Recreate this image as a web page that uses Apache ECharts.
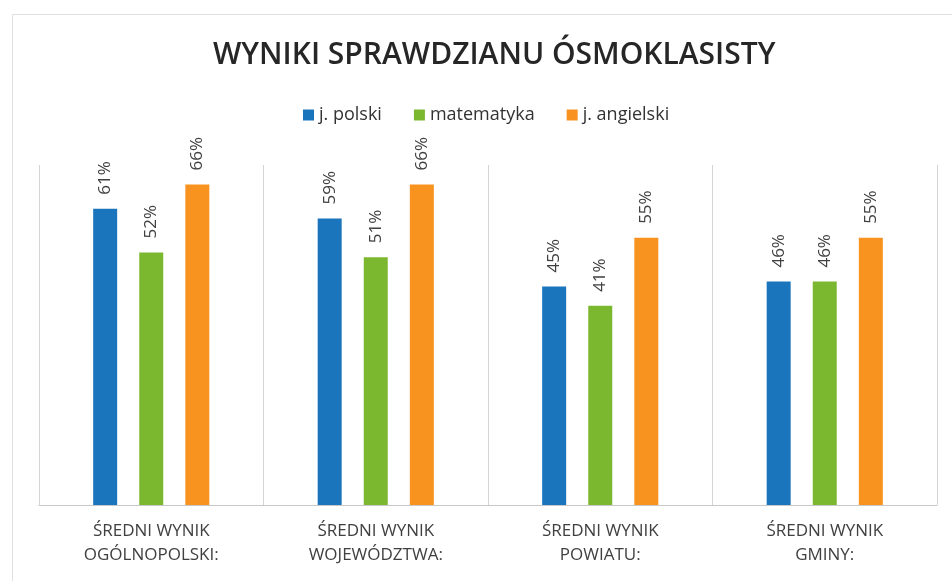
<!DOCTYPE html>
<html>
<head>
<meta charset="utf-8">
<script src="https://cdn.jsdelivr.net/npm/echarts@6/dist/echarts.min.js"></script>
<style>
  html, body { margin: 0; padding: 0; background: #fff; }
  #main { width: 952px; height: 581px; }
</style>
</head>
<body>
<div id="main"></div>
<script>
// dane z wykresu
var categories = ['ŚREDNI WYNIK\nOGÓLNOPOLSKI:', 'ŚREDNI WYNIK\nWOJEWÓDZTWA:', 'ŚREDNI WYNIK\nPOWIATU:', 'ŚREDNI WYNIK\nGMINY:'];
var polski = [61, 59, 45, 46];
var matematyka = [52, 51, 41, 46];
var angielski = [66, 66, 55, 55];

var chart = echarts.init(document.getElementById('main'), null, { renderer: 'canvas' });

var labelOpt = {
  show: true,
  position: 'top',
  rotate: 90,
  align: 'left',
  verticalAlign: 'middle',
  distance: 14,
  formatter: '{c}%',
  fontFamily: 'Open Sans',
  fontSize: 17,
  color: '#404040'
};

var option = {
  backgroundColor: '#fff',
  textStyle: { fontFamily: 'Open Sans' },
  title: {
    text: 'WYNIKI SPRAWDZIANU ÓSMOKLASISTY',
    left: 208,
    top: 35,
    textStyle: {
      fontFamily: 'Open Sans',
      fontSize: 30,
      fontWeight: 600,
      color: '#262626'
    }
  },
  legend: {
    top: 101,
    left: 298,
    itemWidth: 11,
    itemHeight: 11,
    itemGap: 32,
    icon: 'rect',
    textStyle: { fontFamily: 'Open Sans', fontSize: 18, color: '#333' }
  },
  color: ['#1b75bc', '#7cb82f', '#f7931e'],
  grid: { left: 39, right: 15, top: 165, bottom: 76 },
  xAxis: {
    type: 'category',
    data: categories,
    axisTick: { show: false },
    axisLine: { lineStyle: { color: '#c8c8c8' } },
    splitLine: { show: true, interval: 0, lineStyle: { color: '#d4d4d4' } },
    axisLabel: {
      interval: 0,
      margin: 14,
      lineHeight: 24,
      fontFamily: 'Open Sans',
      fontSize: 17,
      color: '#404040'
    }
  },
  yAxis: {
    type: 'value',
    min: 0,
    max: 70,
    show: false,
    splitLine: { show: false }
  },
  series: [
    { name: 'j. polski', type: 'bar', data: polski, barWidth: 24, barGap: '92%', label: labelOpt },
    { name: 'matematyka', type: 'bar', data: matematyka, barWidth: 24, barGap: '92%', label: labelOpt },
    { name: 'j. angielski', type: 'bar', data: angielski, barWidth: 24, barGap: '92%', label: labelOpt }
  ],
  graphic: [{
    type: 'rect',
    left: 10,
    top: 12,
    shape: { width: 960, height: 600 },
    style: { fill: 'none', stroke: '#e0e0e0', lineWidth: 1 },
    silent: true
  }]
};

chart.setOption(option);
</script>
</body>
</html>
